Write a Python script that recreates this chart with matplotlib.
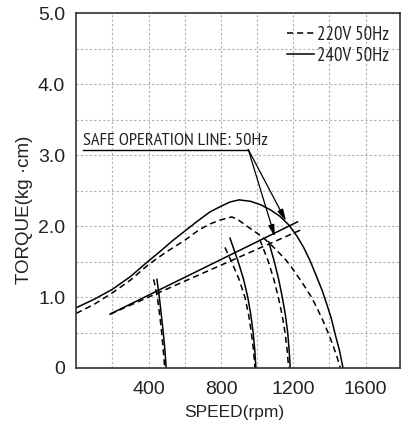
import matplotlib
matplotlib.use("Agg")
import matplotlib.pyplot as plt
import matplotlib.font_manager as fm

BASE = "Liberation Sans"
cond = None
cands = []
for f in fm.fontManager.ttflist:
    st = str(f.stretch).lower()
    nm = f.name.lower()
    if f.style != "normal" or f.weight not in (400, "normal", "regular", "book"):
        continue
    if "mono" in nm or "sans" not in nm:
        continue
    if "condensed" in st or "narrow" in nm or "condensed" in nm:
        cands.append(f)
if cands:
    cands.sort(key=lambda f: 0 if "narrow" in f.name.lower() else 1)
    cond = cands[0].fname

# ---- data ----
x_ticks = [400, 800, 1200, 1600]
x_tick_labels = ["400", "800", "1200", "1600"]
y_ticks = [0, 1, 2, 3, 4, 5]
y_tick_labels = ["0", "1.0", "2.0", "3.0", "4.0", "5.0"]

# 240V 50Hz main torque curve
s240_x = [0, 100, 200, 300, 400, 462, 530, 600, 670, 739, 800, 850, 900, 963, 1020, 1073, 1125,
          1174, 1220, 1257, 1295, 1330, 1360, 1385, 1410, 1431, 1455, 1475]
s240_y = [0.85, 0.97, 1.11, 1.29, 1.51, 1.64, 1.79, 1.93, 2.07, 2.20, 2.28, 2.34, 2.37, 2.35, 2.30,
          2.23, 2.14, 2.02, 1.86, 1.70, 1.50, 1.28, 1.09, 0.90, 0.70, 0.48, 0.25, 0.0]
# 220V 50Hz main torque curve
s220_x = [0, 100, 200, 300, 400, 500, 600, 680, 739, 800, 860, 900, 960, 1000, 1037, 1100, 1160,
          1190, 1220, 1250, 1275, 1300, 1330, 1360, 1392, 1415, 1440, 1460]
s220_y = [0.77, 0.90, 1.06, 1.24, 1.46, 1.64, 1.80, 1.95, 2.03, 2.09, 2.13, 2.08, 1.97, 1.90, 1.83,
          1.68, 1.52, 1.42, 1.31, 1.20, 1.10, 1.00, 0.85, 0.69, 0.50, 0.35, 0.17, 0.0]

# small load curves - 240V solid / 220V dashed
p1_y = [1.25, 1.0, 0.75, 0.5, 0.25, 0.0]
p1_240_x = [446, 459, 470, 481, 490, 497]
p1_220_x = [428, 448, 461, 472, 481, 489]
p2_240_y = [1.83, 1.5, 1.25, 1.0, 0.75, 0.5, 0.25, 0.0]
p2_240_x = [850, 895, 925, 948, 965, 978, 987, 993]
p2_220_y = [1.70, 1.5, 1.25, 1.0, 0.75, 0.5, 0.25, 0.0]
p2_220_x = [822, 858, 900, 932, 953, 968, 980, 988]
p3_240_y = [1.78, 1.5, 1.25, 1.0, 0.75, 0.5, 0.25, 0.0]
p3_240_x = [1064, 1095, 1119, 1139, 1156, 1169, 1177, 1183]
p3_220_y = [1.81, 1.5, 1.25, 1.0, 0.75, 0.5, 0.25, 0.0]
p3_220_x = [1015, 1062, 1092, 1117, 1138, 1154, 1166, 1174]

# safe operation lines
safe240_x = [187, 1223]
safe240_y = [0.76, 2.06]
safe220_x = [187, 1245]
safe220_y = [0.76, 1.95]

label_220 = "220V 50Hz"
label_240 = "240V 50Hz"
safe_text = "SAFE OPERATION LINE: 50Hz"

# ---- drawing ----
fig = plt.figure(figsize=(4.01, 4.25), dpi=100)
ax = fig.add_axes([76.3 / 401, 1 - 368 / 425, (400 - 76.3) / 401, (368 - 13.3) / 425])

LW = 1.1
DASH = (4, 2.6)

ax.plot(s220_x, s220_y, color="black", lw=LW, dashes=DASH, label=label_220)
ax.plot(s240_x, s240_y, color="black", lw=LW, label=label_240)

ax.plot(p1_240_x, p1_y, color="black", lw=LW)
ax.plot(p1_220_x, p1_y, color="black", lw=LW, dashes=DASH)
ax.plot(p2_240_x, p2_240_y, color="black", lw=LW)
ax.plot(p2_220_x, p2_220_y, color="black", lw=LW, dashes=DASH)
ax.plot(p3_240_x, p3_240_y, color="black", lw=LW)
ax.plot(p3_220_x, p3_220_y, color="black", lw=LW, dashes=DASH)

ax.plot(safe240_x, safe240_y, color="black", lw=LW)
ax.plot(safe220_x, safe220_y, color="black", lw=LW, dashes=DASH)

ax.set_xlim(0, 1790)
ax.set_ylim(0, 5)
ax.set_xticks(x_ticks)
ax.set_xticklabels(x_tick_labels)
ax.set_xticks([200, 600, 1000, 1400], minor=True)
ax.set_yticks(y_ticks)
ax.set_yticklabels(y_tick_labels)
ax.set_yticks([0.5, 1.5, 2.5, 3.5, 4.5], minor=True)
ax.tick_params(which="both", length=0)
ax.tick_params(axis="x", pad=9)
ax.tick_params(axis="y", pad=8)
for lab in ax.get_xticklabels() + ax.get_yticklabels():
    lab.set_fontfamily(BASE)
    lab.set_fontsize(14)
    lab.set_color("#222222")
ax.grid(True, which="both", color="#b0b0b0", lw=0.8, linestyle=(0, (2, 2)))
ax.set_axisbelow(True)
for sp in ax.spines.values():
    sp.set_linewidth(1.2)
    sp.set_color("#333333")

ax.set_xlabel("SPEED(rpm)", fontfamily=BASE, fontsize=12.5, color="#222222")
ax.xaxis.set_label_coords(0.487, -0.105)
ax.xaxis.label.set_va("top")
ax.set_ylabel("TORQUE(kg ·cm)", fontfamily=BASE, fontsize=13.5, color="#222222")
ax.yaxis.set_label_coords(-0.133, 0.446)

if cond:
    legprop = fm.FontProperties(fname=cond, size=13.5)
    safeprop = fm.FontProperties(fname=cond, size=13.2)
    hl = 1.45
else:
    legprop = fm.FontProperties(family=BASE, size=11.5)
    safeprop = fm.FontProperties(family=BASE, size=10)
    hl = 1.8

leg = ax.legend(loc="upper right", bbox_to_anchor=(0.965, 0.965), frameon=False,
                handlelength=hl, handletextpad=0.12, labelspacing=0.15, borderaxespad=0,
                borderpad=0, prop=legprop)
for t in leg.get_texts():
    t.set_color("#222222")

# annotation text, underline and arrows
ax.text(37, 3.14, safe_text, fontproperties=safeprop, va="baseline", ha="left", color="#222222")
ax.plot([37, 951], [3.08, 3.08], color="black", lw=1.0)
for tip in [(1160, 2.07), (1098, 1.85)]:
    ax.annotate("", xy=tip, xytext=(951, 3.08),
                arrowprops=dict(arrowstyle="-|>,head_length=0.7,head_width=0.18",
                                lw=0.9, color="black", shrinkA=0, shrinkB=0))

fig.savefig("out.png", dpi=100)
